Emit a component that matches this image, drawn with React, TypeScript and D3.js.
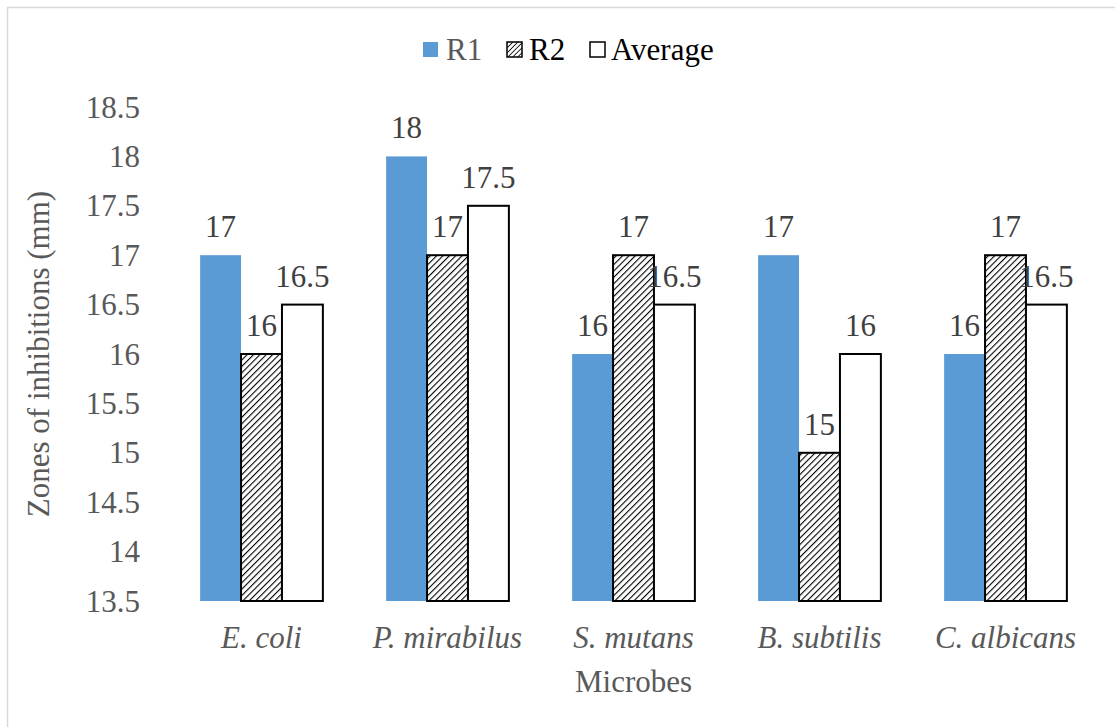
import React from "react";
import * as d3 from "d3";

const microbes = ["E. coli", "P. mirabilus", "S. mutans", "B. subtilis", "C. albicans"];
const seriesNames = ["R1", "R2", "Average"];
const r1Values = [17, 18, 16, 17, 16];
const r2Values = [16, 17, 17, 15, 17];
const averageValues = [16.5, 17.5, 16.5, 16, 16.5];
const yTicks = [13.5, 14, 14.5, 15, 15.5, 16, 16.5, 17, 17.5, 18, 18.5];

const W = 1115;
const H = 727;
const FONT = "Liberation Serif, Tinos, DejaVu Serif, serif";
const GRAY = "#595959";
const LABEL = "#404040";
const BLUE = "#5b9bd5";

const plot = { left: 168.5, right: 1098.5, top: 107, bottom: 601 };

export default function App() {
  const x = d3.scaleBand<string>().domain(microbes).range([plot.left, plot.right]).paddingInner(0).paddingOuter(0);
  const y = d3.scaleLinear().domain([13.5, 18.5]).range([plot.bottom, plot.top]);
  const groupWidth = x.bandwidth() * 0.66;
  const inner = d3.scaleBand<string>().domain(seriesNames).range([0, groupWidth]).padding(0);
  const groupOffset = (x.bandwidth() - groupWidth) / 2;

  const series = [
    { name: "R1", values: r1Values, fill: BLUE, stroke: "none" },
    { name: "R2", values: r2Values, fill: "url(#hatch)", stroke: "#000" },
    { name: "Average", values: averageValues, fill: "#fff", stroke: "#000" },
  ];

  const legendItems = [
    { name: "R1", box: 423, text: 446, fill: BLUE, stroke: "none", color: GRAY },
    { name: "R2", box: 507, text: 529, fill: "url(#hatchSmall)", stroke: "#000", color: "#000" },
    { name: "Average", box: 590, text: 611, fill: "#fff", stroke: "#000", color: "#000" },
  ];

  const txt = { fontFamily: FONT };

  return (
    <svg width={W} height={H} style={{ position: "absolute", left: 0, top: 0, fontFamily: FONT }}>
      <defs>
        <pattern id="hatch" width="4.5" height="4.5" patternUnits="userSpaceOnUse" patternTransform="rotate(45)">
          <rect width="4.5" height="4.5" fill="#fff" />
          <line x1="0" y1="0" x2="0" y2="4.5" stroke="#000" strokeWidth="2.2" />
        </pattern>
        <pattern id="hatchSmall" width="3.5" height="3.5" patternUnits="userSpaceOnUse" patternTransform="rotate(45)">
          <rect width="3.5" height="3.5" fill="#fff" />
          <line x1="0" y1="0" x2="0" y2="3.5" stroke="#000" strokeWidth="1.6" />
        </pattern>
      </defs>
      <rect x={0} y={0} width={W} height={H} fill="#fff" />
      <rect x={7.5} y={7.5} width={1120} height={740} fill="none" stroke="#d9d9d9" strokeWidth={1.5} />

      {/* legend */}
      {legendItems.map((it) => (
        <g key={it.name}>
          <rect
            x={it.box}
            y={42}
            width={15}
            height={15}
            fill={it.fill}
            stroke={it.stroke}
            strokeWidth={it.stroke === "none" ? 0 : 1.5}
          />
          <text x={it.text} y={59.5} fontSize={31} fill={it.color} style={txt}>
            {it.name}
          </text>
        </g>
      ))}

      {/* y tick labels */}
      {yTicks.map((t) => (
        <text key={t} x={140} y={y(t)} dy="0.34em" textAnchor="end" fontSize={31} fill={GRAY} style={txt}>
          {String(t)}
        </text>
      ))}

      {/* bars */}
      {microbes.map((m, i) => (
        <g key={m} transform={`translate(${(x(m) ?? 0) + groupOffset},0)`}>
          {series.map((s) => {
            const v = s.values[i];
            const bx = inner(s.name) ?? 0;
            const bw = inner.bandwidth();
            const top = y(v);
            return (
              <g key={s.name}>
                <rect
                  x={bx}
                  y={top}
                  width={bw}
                  height={plot.bottom - top}
                  fill={s.fill}
                  stroke={s.stroke}
                  strokeWidth={s.stroke === "none" ? 0 : 2}
                />
                <text x={bx + bw / 2} y={top - 18} textAnchor="middle" fontSize={31} fill={LABEL} style={txt}>
                  {String(v)}
                </text>
              </g>
            );
          })}
        </g>
      ))}

      {/* category labels */}
      {microbes.map((m) => (
        <text
          key={m}
          x={(x(m) ?? 0) + x.bandwidth() / 2}
          y={648}
          textAnchor="middle"
          fontSize={31}
          fontStyle="italic"
          fill={GRAY}
          style={txt}
        >
          {m}
        </text>
      ))}

      <text x={(plot.left + plot.right) / 2} y={692} textAnchor="middle" fontSize={31} fill={GRAY} style={txt}>
        Microbes
      </text>
      <text
        transform={`translate(49,${(plot.top + plot.bottom) / 2}) rotate(-90)`}
        textAnchor="middle"
        fontSize={31}
        fill={GRAY}
        style={txt}
      >
        Zones of inhibitions (mm)
      </text>
    </svg>
  );
}
